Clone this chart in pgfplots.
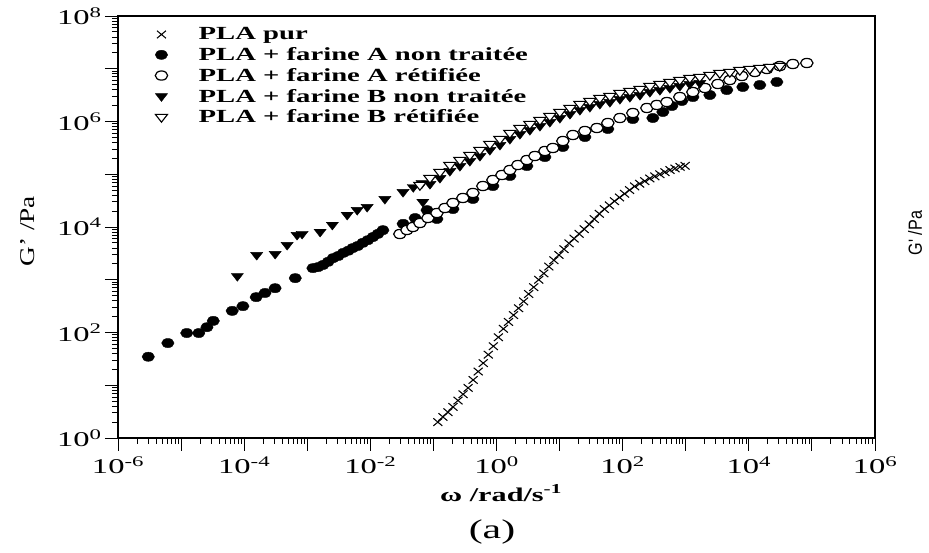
\documentclass[border=0pt]{standalone}
\usepackage{pgfplots}
\pgfplotsset{compat=1.18}
\usepackage{fontspec}
\setmainfont{Liberation Serif}[FakeStretch=1.3]
\newfontfamily\tickfont{Liberation Serif}[FakeStretch=1.55]
\newfontfamily\rfont{Liberation Sans}[FakeStretch=0.85]
\begin{document}
\begin{tikzpicture}[x=1pt,y=1pt]
\begin{axis}[
 name=ax, at={(0,0)}, anchor=south west,
 scale only axis, width=757pt, height=422pt,
 xmode=log, ymode=log,
 xmin=1e-6, xmax=1e6, ymin=1, ymax=1e8,
 xtick={1e-6,1e-5,1e-4,1e-3,1e-2,1e-1,1,1e1,1e2,1e3,1e4,1e5,1e6},
 xticklabels={10\textsuperscript{-6},,10\textsuperscript{-4},,10\textsuperscript{-2},,10\textsuperscript{0},,10\textsuperscript{2},,10\textsuperscript{4},,10\textsuperscript{6}},
 ytick={1,1e1,1e2,1e3,1e4,1e5,1e6,1e7,1e8},
 yticklabels={10\textsuperscript{0},,10\textsuperscript{2},,10\textsuperscript{4},,10\textsuperscript{6},,10\textsuperscript{8}},
 tick align=outside, xtick pos=bottom, ytick pos=left,
 major tick length=13pt, minor tick length=6pt,
 axis line style={line width=1.1pt},
 every tick/.style={black, line width=0.9pt},
 tick label style={font=\tickfont\fontsize{21}{23}\selectfont},
 xticklabel style={yshift=-2pt},
 xlabel={\textbf{ω /rad/s\textsuperscript{-1}}},
 ylabel={G' /Pa},
 xlabel style={font=\tickfont\fontsize{19.5}{21}\selectfont, at={(axis description cs:0.506,-0.13)}, anchor=center},
 ylabel style={font=\fontsize{21}{23}\selectfont, at={(axis description cs:-0.119,0.49)}, anchor=center},
 legend style={draw=none, fill=none, at={(axis description cs:0.045,0.98)}, anchor=north west,
   font=\tickfont\bfseries\fontsize{18.5}{20}\selectfont, row sep=4.2pt, nodes={inner sep=1pt}},
 legend cell align=left,
 legend image code/.code={\draw[#1] plot coordinates {(0pt,0pt)}; \path (-6pt,0pt) (36pt,0pt);},
]
\coordinate (LL) at (rel axis cs:0,0);
% PLA pur
\addplot[only marks, black, mark=x, mark size=5.3pt, mark options={line width=1.05pt, xscale=1.2}] coordinates {
(0.1175,2.00)(0.1413,2.51)(0.1698,3.09)(0.2042,3.89)(0.2455,5.13)(0.2951,6.76)(0.3548,8.91)(0.4266,12.6)
(0.5129,18.2)(0.6166,26.3)(0.7413,38.0)(0.8913,55.0)(1.072,81.3)(1.288,117.5)(1.549,158.5)(1.862,213.8)
(2.239,288.4)(2.692,389)(3.236,537)(3.890,724)(4.677,1000)(5.623,1318)(6.761,1778)(8.128,2344)
(9.772,2951)(11.75,3802)(14.13,4898)(16.98,6026)(20.42,7413)(24.55,9120)(29.51,11220)(35.48,14130)
(42.66,17780)(51.29,21880)(61.66,25700)(74.13,30900)(89.13,36310)(107.2,42660)(128.8,50120)(154.9,58880)
(186.2,66070)(223.9,74130)(269.2,83180)(323.6,91200)(389.0,100000)(467.7,109600)(562.3,120200)(676.1,128800)
(812.8,138000)(977.2,144500)
};
\addlegendentry{PLA pur}
% A non traitee
\addplot[only marks, black, mark=*, mark size=4.6pt, mark options={xscale=1.35}] coordinates {
(3.02e-6,34.7)(6.17e-6,63.1)(1.23e-5,97.7)(1.91e-5,97.7)(2.57e-5,126)(3.24e-5,166)(6.46e-5,257)(9.55e-5,316)
(1.55e-4,468)(2.14e-4,562)(3.09e-4,692)(6.46e-4,1072)(1.23e-3,1660)(1.48e-3,1738)(1.78e-3,1905)(2.14e-3,2188)
(2.57e-3,2570)(3.09e-3,2818)(3.72e-3,3236)(4.47e-3,3548)(5.25e-3,3981)(6.31e-3,4365)(7.59e-3,5012)(9.12e-3,5623)
(1.10e-2,6457)(1.32e-2,7413)(1.58e-2,8710)(3.31e-2,11480)(5.13e-2,14790)(7.94e-2,20890)
(0.1135,14190)(0.204,21900)(0.423,34000)(0.877,59800)(1.63,92700)(3.03,143200)(5.85,212000)(11.27,329000)
(25.2,508000)(58.2,721000)(145,1114000)(301,1165000)(434,1514000)(603,1968000)(867,2450000)(1297,2910000)
(2410,3180000)(4477,3950000)(8035,4510000)(14930,4920000)(27800,5610000)
};
\addlegendentry{PLA + farine A non traitée}
% A retifiee
\addplot[only marks, black, mark=*, mark size=4.6pt, mark options={xscale=1.35, fill=white, line width=1.2pt}] coordinates {
(2.94e-2,7360)(3.80e-2,8770)(4.73e-2,10000)(6.11e-2,11910)(8.18e-2,14820)(0.1135,18420)(0.152,22910)(0.204,28510)
(0.293,35480)(0.423,44160)(0.608,59840)(0.877,77800)(1.219,96800)(1.63,120500)(2.18,149700)(3.03,186200)
(4.06,221800)(5.85,276000)(7.83,315000)(11.27,427000)(16.26,555000)(25.2,661000)(39.0,753000)(58.2,937000)
(90.4,1165000)(145,1449000)(242,1803000)(348,2060000)(501,2340000)(805,2910000)(1297,3620000)(2009,4320000)
(3228,5140000)(5000,6120000)(7745,7290000)(12450,8680000)(19280,9890000)(30970,11270000)(49770,12300000)(82990,12850000)
};
\addlegendentry{PLA + farine A rétifiée}
% B non traitee
\addplot[only marks, black, mark=triangle*, mark size=5.2pt, mark options={rotate=180, xscale=1.35}] coordinates {
(7.8e-5,1175)(1.58e-4,2950)(3.1e-4,3090)(4.8e-4,4570)(6.9e-4,7080)(8.3e-4,7410)(1.6e-3,8100)(2.5e-3,11000)
(4.3e-3,17000)(6.2e-3,21000)(8.9e-3,24000)(1.7e-2,34000)(3.3e-2,46000)(4.8e-2,57000)(6.6e-2,68000)(6.8e-2,30000)
(8.81e-2,65300)(0.1268,84900)(0.1824,115300)(0.263,143200)(0.378,178200)(0.546,221800)(0.785,288400)(1.132,359000)
(1.63,466000)(2.35,579000)(3.38,690000)(4.88,822000)(7.01,979000)(10.1,1165000)(14.6,1387000)(21.0,1652000)
(30.2,1884000)(43.5,2150000)(62.7,2340000)(90.4,2670000)(130,2910000)(188,3180000)(270,3620000)(389,3950000)
(560,4320000)(805,4710000)(1161,5140000)(1671,5370000)
};
\addlegendentry{PLA + farine B non traitée}
% B retifiee
\addplot[only marks, black, mark=triangle*, mark size=5.2pt, mark options={rotate=180, xscale=1.35, fill=white, line width=1.1pt}] coordinates {
(6.11e-2,62500)(8.81e-2,84900)(0.1268,110400)(0.1824,149700)(0.263,186200)(0.378,231700)(0.546,288400)(0.785,374000)
(1.132,466000)(1.63,605000)(2.35,753000)(3.38,897000)(4.88,1067000)(7.01,1271000)(10.1,1514000)(14.6,1803000)
(21.0,2150000)(30.2,2450000)(43.5,2790000)(62.7,3040000)(90.4,3470000)(130,3780000)(188,4130000)(270,4710000)
(389,5140000)(560,5610000)(805,6120000)(1161,6680000)(1671,6980000)(2410,7620000)(3467,8300000)(5000,8680000)
(7194,9460000)(10370,9890000)(14930,10330000)(21530,10790000)(30970,11270000)
};
\addlegendentry{PLA + farine B rétifiée}
\end{axis}
\node[font=\tickfont\fontsize{27}{29}\selectfont] at ([shift={(374pt,-94pt)}]LL) {(a)};
\node[rotate=90, font=\rfont\fontsize{19}{21}\selectfont] at ([shift={(797pt,205pt)}]LL) {G' /Pa};
\pgfresetboundingbox
\path[use as bounding box] ([shift={(-118pt,-114pt)}]LL) rectangle ([shift={(811pt,438pt)}]LL);
\end{tikzpicture}
\end{document}
